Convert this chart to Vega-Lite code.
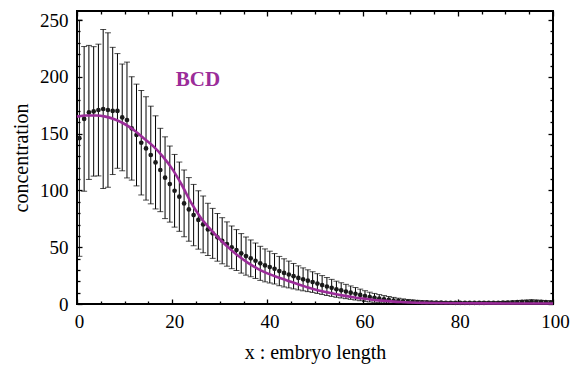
{
  "$schema": "https://vega.github.io/schema/vega-lite/v6.json",
  "width": 476,
  "height": 293,
  "autosize": {"type": "none"},
  "padding": {"left": 77, "top": 11, "right": 30, "bottom": 62},
  "background": "white",
  "config": {
    "view": {"stroke": "black", "strokeWidth": 2},
    "axis": {
      "domain": false,
      "grid": false,
      "tickColor": "black",
      "tickWidth": 1.3,
      "labelFont": "Liberation Serif",
      "labelFontSize": 19,
      "labelColor": "black",
      "titleFont": "Liberation Serif",
      "titleFontSize": 20,
      "titleFontWeight": "normal",
      "titleColor": "black"
    }
  },
  "datasets": {
    "obs": [
      {"x":0.5,"mean":146,"sd":104},{"x":1.5,"mean":163,"sd":63.7},{"x":2.5,"mean":168.7,"sd":59},{"x":3.5,"mean":169.6,"sd":57},
      {"x":4.5,"mean":170.8,"sd":58},{"x":5.5,"mean":171.7,"sd":70},{"x":6.5,"mean":170.8,"sd":68},{"x":7.5,"mean":170,"sd":56},
      {"x":8.5,"mean":170,"sd":50.5},{"x":9.5,"mean":164.3,"sd":47},{"x":10.5,"mean":162,"sd":51},{"x":11.5,"mean":154.6,"sd":45.5},
      {"x":12.5,"mean":148.8,"sd":44.8},{"x":13.5,"mean":142,"sd":46},{"x":14.5,"mean":137,"sd":45.5},{"x":15.5,"mean":131.2,"sd":43},
      {"x":16.5,"mean":124.7,"sd":41},{"x":17.5,"mean":118,"sd":36.7},{"x":18.5,"mean":111.2,"sd":36},{"x":19.5,"mean":105.6,"sd":33.5},
      {"x":20.5,"mean":99.7,"sd":32},{"x":21.5,"mean":94.5,"sd":30.5},{"x":22.5,"mean":88.6,"sd":29.4},{"x":23.5,"mean":83.3,"sd":28},
      {"x":24.5,"mean":78.3,"sd":27},{"x":25.5,"mean":74,"sd":25.7},{"x":26.5,"mean":70.1,"sd":25},{"x":27.5,"mean":65.7,"sd":23},
      {"x":28.5,"mean":62.2,"sd":22},{"x":29.5,"mean":58.7,"sd":21},{"x":30.5,"mean":55.7,"sd":20.3},{"x":31.5,"mean":52.8,"sd":19.5},
      {"x":32.5,"mean":49.9,"sd":18.8},{"x":33.5,"mean":47.5,"sd":18},{"x":34.5,"mean":44.6,"sd":17.4},{"x":35.5,"mean":42.2,"sd":16.8},
      {"x":36.5,"mean":40.2,"sd":16.2},{"x":37.5,"mean":38.1,"sd":15.6},{"x":38.5,"mean":35.8,"sd":15},{"x":39.5,"mean":34,"sd":14.5},
      {"x":40.5,"mean":32.5,"sd":14},{"x":41.5,"mean":31,"sd":13.4},{"x":42.5,"mean":29,"sd":12.9},{"x":43.5,"mean":27.4,"sd":12.4},
      {"x":44.5,"mean":26,"sd":11.8},{"x":45.5,"mean":24.5,"sd":11.2},{"x":46.5,"mean":23,"sd":10.6},{"x":47.5,"mean":21.7,"sd":10.1},
      {"x":48.5,"mean":20.5,"sd":9.6},{"x":49.5,"mean":19.3,"sd":9.1},{"x":50.5,"mean":18,"sd":8.7},{"x":51.5,"mean":16.7,"sd":8.3},
      {"x":52.5,"mean":15.4,"sd":7.9},{"x":53.5,"mean":14.2,"sd":7.5},{"x":54.5,"mean":13,"sd":7.1},{"x":55.5,"mean":12,"sd":6.7},
      {"x":56.5,"mean":11,"sd":6.3},{"x":57.5,"mean":10,"sd":5.9},{"x":58.5,"mean":9,"sd":5.5},{"x":59.5,"mean":8,"sd":5.1},
      {"x":60.5,"mean":7,"sd":4.7},{"x":61.5,"mean":6.1,"sd":4.3},{"x":62.5,"mean":5.4,"sd":3.9},{"x":63.5,"mean":4.7,"sd":3.6},
      {"x":64.5,"mean":4.1,"sd":3.3},{"x":65.5,"mean":3.6,"sd":3},{"x":66.5,"mean":3.1,"sd":2.7},{"x":67.5,"mean":2.7,"sd":2.4},
      {"x":68.5,"mean":2.4,"sd":2.1},{"x":69.5,"mean":2.1,"sd":1.9},{"x":70.5,"mean":1.9,"sd":1.7},{"x":71.5,"mean":1.7,"sd":1.5},
      {"x":72.5,"mean":1.5,"sd":1.3},{"x":73.5,"mean":1.4,"sd":1.2},{"x":74.5,"mean":1.3,"sd":1.1},{"x":75.5,"mean":1.2,"sd":1},
      {"x":76.5,"mean":1.2,"sd":1},{"x":77.5,"mean":1.1,"sd":0.9},{"x":78.5,"mean":1.1,"sd":0.9},{"x":79.5,"mean":1.0,"sd":0.9},
      {"x":80.5,"mean":1.0,"sd":0.8},{"x":81.5,"mean":1.0,"sd":0.8},{"x":82.5,"mean":1.0,"sd":0.8},{"x":83.5,"mean":1.0,"sd":0.8},
      {"x":84.5,"mean":1.0,"sd":0.8},{"x":85.5,"mean":1.0,"sd":0.9},{"x":86.5,"mean":1.1,"sd":0.9},{"x":87.5,"mean":1.1,"sd":0.9},
      {"x":88.5,"mean":1.1,"sd":1.0},{"x":89.5,"mean":1.2,"sd":1.0},{"x":90.5,"mean":1.3,"sd":1.1},{"x":91.5,"mean":1.4,"sd":1.2},
      {"x":92.5,"mean":1.6,"sd":1.3},{"x":93.5,"mean":1.8,"sd":1.4},{"x":94.5,"mean":2.0,"sd":1.5},{"x":95.5,"mean":2.1,"sd":1.6},
      {"x":96.5,"mean":2.0,"sd":1.5},{"x":97.5,"mean":1.8,"sd":1.4},{"x":98.5,"mean":1.6,"sd":1.3},{"x":99.5,"mean":1.5,"sd":1.3}
    ],
    "fit": [
      {"x":0,"y":165},{"x":2,"y":166},{"x":4,"y":166},{"x":6,"y":165},{"x":8,"y":162.5},{"x":10,"y":158.5},
      {"x":12,"y":153},{"x":14,"y":146},{"x":16,"y":139},{"x":18,"y":130},{"x":20,"y":119},{"x":22,"y":105},
      {"x":24,"y":89},{"x":26,"y":76},{"x":28,"y":66},{"x":30,"y":57},{"x":32,"y":49},{"x":34,"y":42},
      {"x":36,"y":36},{"x":38,"y":31},{"x":40,"y":27},{"x":42,"y":23.8},{"x":44,"y":21},{"x":46,"y":18},
      {"x":48,"y":15.3},{"x":50,"y":12.8},{"x":52,"y":10.8},{"x":54,"y":9},{"x":56,"y":7.4},{"x":58,"y":6},
      {"x":60,"y":4.8},{"x":62,"y":3.8},{"x":64,"y":3},{"x":66,"y":2.3},{"x":68,"y":1.7},{"x":70,"y":1.3},
      {"x":74,"y":0.9},{"x":80,"y":0.6},{"x":90,"y":0.5},{"x":100,"y":0.5}
    ]
  },
  "layer": [
    {
      "data": {"name": "obs"},
      "mark": {"type": "errorbar", "ticks": {"size": 6, "thickness": 1}, "color": "black", "thickness": 1, "clip": true},
      "encoding": {
        "x": {
          "field": "x", "type": "quantitative",
          "scale": {"domain": [0, 100], "nice": false, "zero": false},
          "axis": {
            "orient": "bottom",
            "values": [0,5,10,15,20,25,30,35,40,45,50,55,60,65,70,75,80,85,90,95,100],
            "labelExpr": "datum.value % 20 === 0 ? datum.label : ''",
            "labelFont": "Liberation Serif",
            "labelFontSize": 19,
            "tickSize": {"condition": {"test": "datum.value % 20 === 0", "value": -5}, "value": -3},
            "labelFlush": false,
            "labelOffset": 2,
            "labelPadding": 13,
            "title": "x : embryo length",
            "titlePadding": 11
          }
        },
        "y": {
          "field": "mean", "type": "quantitative",
          "scale": {"domain": [0, 258], "nice": false},
          "axis": {
            "orient": "left",
            "values": [0,10,20,30,40,50,60,70,80,90,100,110,120,130,140,150,160,170,180,190,200,210,220,230,240,250],
            "labelExpr": "datum.value % 50 === 0 ? datum.label : ''",
            "labelFont": "Liberation Serif",
            "labelFontSize": 19,
            "tickSize": {"condition": {"test": "datum.value % 50 === 0", "value": -5}, "value": -3},
            "labelPadding": 14,
            "title": "concentration",
            "titlePadding": 8
          }
        },
        "yError": {"field": "sd"}
      }
    },
    {
      "data": {"name": "obs"},
      "mark": {"type": "point", "filled": true, "size": 22, "color": "#1a1a1a", "opacity": 1},
      "encoding": {
        "x": {
          "field": "x", "type": "quantitative",
          "axis": {
            "orient": "top",
            "values": [0,5,10,15,20,25,30,35,40,45,50,55,60,65,70,75,80,85,90,95,100],
            "labels": false,
            "tickSize": {"condition": {"test": "datum.value % 20 === 0", "value": -5}, "value": -3},
            "title": null
          }
        },
        "y": {
          "field": "mean", "type": "quantitative",
          "axis": {
            "orient": "right",
            "values": [0,10,20,30,40,50,60,70,80,90,100,110,120,130,140,150,160,170,180,190,200,210,220,230,240,250],
            "labels": false,
            "tickSize": {"condition": {"test": "datum.value % 50 === 0", "value": -5}, "value": -3},
            "title": null
          }
        }
      }
    },
    {
      "data": {"name": "fit"},
      "mark": {"type": "line", "color": "#9b2c99", "strokeWidth": 2.6, "interpolate": "monotone"},
      "encoding": {
        "x": {"field": "x", "type": "quantitative", "axis": null},
        "y": {"field": "y", "type": "quantitative", "axis": null}
      }
    },
    {
      "data": {"values": [{}]},
      "mark": {"type": "text", "font": "Liberation Serif", "fontWeight": "bold", "fontSize": 21, "color": "#9b2c99", "align": "center", "baseline": "middle"},
      "encoding": {
        "x": {"datum": 25.4, "type": "quantitative", "axis": null},
        "y": {"datum": 197, "type": "quantitative", "axis": null},
        "text": {"value": "BCD"}
      }
    }
  ]
}
